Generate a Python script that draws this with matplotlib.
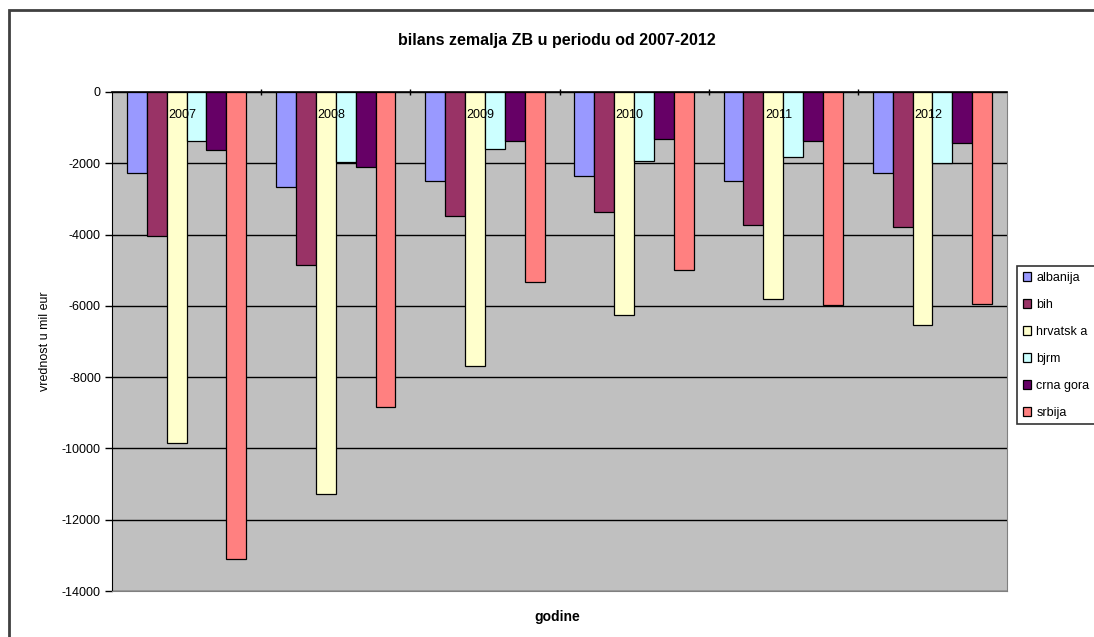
import matplotlib
matplotlib.use("Agg")
import matplotlib.pyplot as plt
import numpy as np
from matplotlib.patches import Rectangle

plt.rcParams['font.family'] = ['Liberation Sans', 'DejaVu Sans']

years = ['2007', '2008', '2009', '2010', '2011', '2012']
countries = ['albanija', 'bih', 'hrvatsk a', 'bjrm', 'crna gora', 'srbija']
albanija = [-2270, -2660, -2490, -2350, -2490, -2280]
bih = [-4030, -4860, -3480, -3360, -3740, -3780]
hrvatska = [-9840, -11290, -7680, -6250, -5815, -6545]
bjrm = [-1375, -1975, -1600, -1925, -1830, -1985]
crna_gora = [-1630, -2095, -1375, -1320, -1375, -1430]
srbija = [-13110, -8830, -5340, -4990, -5975, -5950]
series = [albanija, bih, hrvatska, bjrm, crna_gora, srbija]
colors = ['#9999FF', '#993366', '#FFFFCC', '#CCFFFF', '#660066', '#FF8080']

W, H = 1094, 637
fig = plt.figure(figsize=(W / 100, H / 100), dpi=100)
fig.patch.set_facecolor('white')

# outer chart frame (cropped on right/bottom)
fig.add_artist(Rectangle((9 / W, -0.1), 1.2, 1 - 10 / H + 0.1, transform=fig.transFigure,
                         fill=False, edgecolor='#404040', linewidth=2))

ax = fig.add_axes([112 / W, 1 - 591 / H, (1007 - 112) / W, (591 - 92) / H])
ax.set_facecolor('#C0C0C0')

bw = 1.0 / 7.5
x = np.arange(len(years))
handles = []
for i, (vals, c, name) in enumerate(zip(series, colors, countries)):
    pos = x - 3 * bw + (i + 0.5) * bw
    b = ax.bar(pos, vals, width=bw, color=c, edgecolor='black', linewidth=0.9, label=name, zorder=3)
    handles.append(b)

ax.set_xlim(-0.5, len(years) - 0.5)
ax.set_ylim(-14000, 0)
ax.set_yticks(np.arange(-14000, 1, 2000))
ax.set_yticklabels([str(v) for v in np.arange(-14000, 1, 2000)], fontsize=9)
ax.yaxis.grid(True, color='black', linewidth=1.0, zorder=1)
ax.set_axisbelow(True)
ax.tick_params(axis='y', direction='out', length=5, width=1, pad=3)

ax.xaxis.set_ticks_position('top')
ax.set_xticks(np.arange(0.5, len(years) - 0.5, 1.0))
ax.set_xticklabels([])
ax.tick_params(axis='x', direction='inout', length=5, width=1, top=True, bottom=False)

for xi, yl in zip(x, years):
    ax.text(xi - 0.03, -640, yl, ha='center', va='center', fontsize=9, zorder=6)

for s in ['right', 'bottom']:
    ax.spines[s].set_color('#808080')
ax.spines['left'].set_color('black')
ax.spines['top'].set_color('black')
ax.spines['top'].set_linewidth(1.2)

ax.set_ylabel('vrednost u mil eur', fontsize=9, labelpad=8)
fig.text(557 / W, 1 - 617 / H, 'godine', ha='center', va='center', fontsize=10, fontweight='bold')
fig.text(557 / W, 1 - 41 / H, 'bilans zemalja ZB u periodu od 2007-2012', ha='center', va='center',
         fontsize=11.5, fontweight='bold')

leg = fig.legend(handles=handles, labels=countries, loc='upper left',
                 bbox_to_anchor=(1017 / W, 1 - 266 / H), frameon=True, fancybox=False,
                 fontsize=9, handlelength=0.7, handleheight=0.7, handletextpad=0.4,
                 labelspacing=1.2, borderpad=0.45, borderaxespad=0)
leg.get_frame().set_edgecolor('black')
leg.get_frame().set_linewidth(1.2)

fig.savefig('out.png', dpi=100)
